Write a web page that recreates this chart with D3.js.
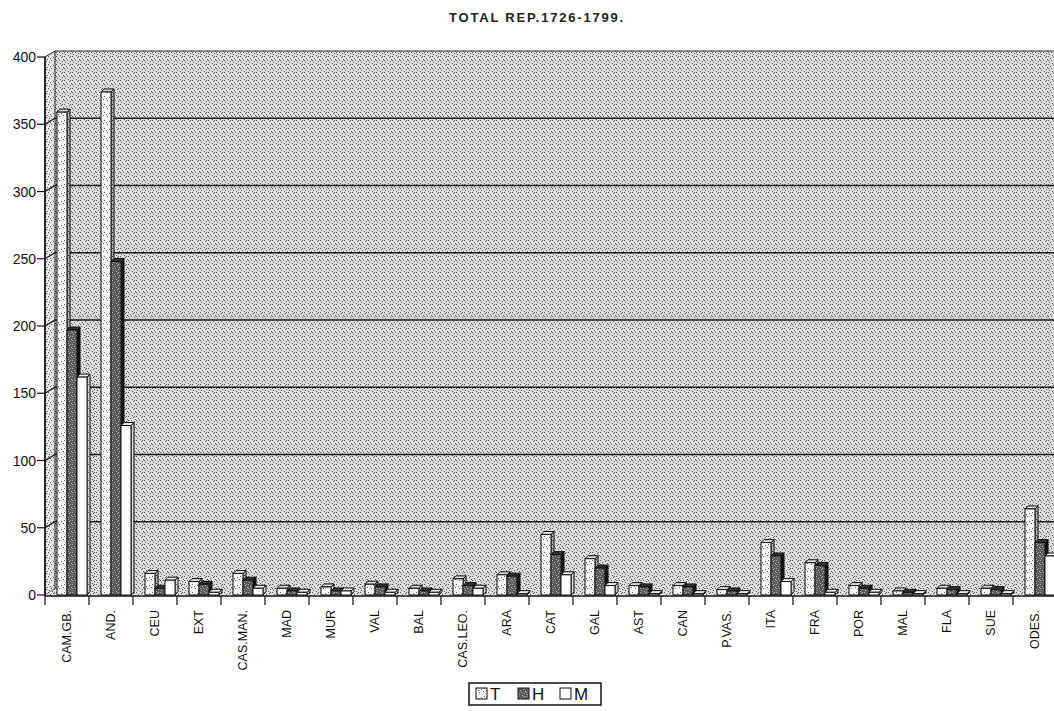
<!DOCTYPE html>
<html>
<head>
<meta charset="utf-8">
<script src="https://cdn.jsdelivr.net/npm/d3@7"></script>
<style>
  body { margin: 0; background: #fff; }
  svg { display: block; font-family: "Liberation Sans", Arial, sans-serif; }
</style>
</head>
<body>
<svg id="chart" width="1054" height="711"></svg>
<script>
var categories = ['CAM.GB.', 'AND.', 'CEU', 'EXT', 'CAS.MAN.', 'MAD', 'MUR', 'VAL', 'BAL',
  'CAS.LEO.', 'ARA', 'CAT', 'GAL', 'AST', 'CAN', 'P.VAS.', 'ITA', 'FRA', 'POR', 'MAL', 'FLA', 'SUE', 'ODES.'];
var seriesNames = ['T', 'H', 'M'];
var valuesT = [359, 374, 16, 10, 16, 5, 6, 8, 5, 12, 15, 45, 27, 7, 7, 4, 39, 24, 7, 3, 5, 5, 64];
var valuesH = [197, 248, 5, 8, 11, 3, 3, 6, 3, 7, 14, 30, 20, 6, 6, 3, 29, 22, 5, 2, 4, 4, 39];
var valuesM = [162, 126, 11, 2, 5, 2, 3, 2, 2, 5, 1, 15, 7, 1, 1, 1, 10, 2, 2, 1, 1, 1, 29];
var yTicks = [0, 50, 100, 150, 200, 250, 300, 350, 400];

var svg = d3.select('#chart');
var defs = svg.append('defs');

// stipple patterns to mimic the scanned grey tones
function stipple(id, size, bg, fg, pts) {
  var p = defs.append('pattern')
    .attr('id', id)
    .attr('width', size).attr('height', size)
    .attr('patternUnits', 'userSpaceOnUse');
  p.append('rect').attr('width', size).attr('height', size).attr('fill', bg);
  pts.forEach(function(d) {
    p.append('rect').attr('x', d[0]).attr('y', d[1]).attr('width', 1).attr('height', 1).attr('fill', fg);
  });
}
var scatter = [[0, 0], [5, 1], [2, 2], [7, 3], [3, 4], [6, 5], [1, 6], [4, 7], [6, 0], [0, 4]];
stipple('wall', 8, '#dedede', '#555', scatter);
stipple('side', 8, '#e6e6e6', '#555', scatter.slice(0, 7));
stipple('tFace', 8, '#f6f6f6', '#666', scatter.slice(0, 5));
stipple('tSide', 8, '#b8b8b8', '#333', scatter);
stipple('hFace', 8, '#5a5a5a', '#b0b0b0', scatter);
stipple('mSide', 8, '#d6d6d6', '#777', scatter.slice(0, 5));

var x0 = 45, xEnd = 1057;
var dx = 10, dy = -6;          // depth of walls
var bx = 3, by = -3;           // depth of bars

var x = d3.scaleBand()
  .domain(categories)
  .range([x0, xEnd])
  .paddingInner(0).paddingOuter(0);

var xs = d3.scaleBand()
  .domain(seriesNames)
  .range([12, 42]);

var y = d3.scaleLinear()
  .domain([0, 400])
  .range([595, 57]);

// walls
var g = svg.append('g');
g.append('path')
  .attr('d', 'M' + (x0 + dx) + ',' + (y(400) + dy) + 'H1070V' + (y(0) + dy) + 'H' + (x0 + dx) + 'Z')
  .attr('fill', 'url(#wall)');
g.append('path')
  .attr('d', 'M' + (x0 + dx) + ',' + (y(400) + dy) + 'H1070')
  .attr('fill', 'none').attr('stroke', '#333').attr('stroke-width', 1);
g.append('path')
  .attr('d', 'M' + x0 + ',' + y(0) + 'L' + (x0 + dx) + ',' + (y(0) + dy) + 'V' + (y(400) + dy) + 'L' + x0 + ',' + y(400) + 'Z')
  .attr('fill', 'url(#side)')
  .attr('stroke', '#222').attr('stroke-width', 1);
g.append('path')
  .attr('d', 'M' + x0 + ',' + y(0) + 'L' + (x0 + dx) + ',' + (y(0) + dy) + 'H1070V' + y(0) + 'Z')
  .attr('fill', 'url(#wall)');

// gridlines: slant on the left wall, then across the back wall
g.selectAll('.grid')
  .data(yTicks.filter(function(d) { return d > 0 && d < 400; }))
  .enter()
  .append('path')
  .attr('class', 'grid')
  .attr('d', function(d) {
    return 'M' + x0 + ',' + y(d) + 'L' + (x0 + dx) + ',' + (y(d) + dy) + 'H1070';
  })
  .attr('fill', 'none')
  .attr('stroke', '#1a1a1a')
  .attr('stroke-width', 1.3);

// bars
var series = [
  { key: 'T', values: valuesT, face: 'url(#tFace)', side: 'url(#tSide)', top: '#d8d8d8' },
  { key: 'H', values: valuesH, face: 'url(#hFace)', side: '#111', top: '#333' },
  { key: 'M', values: valuesM, face: '#fff', side: 'url(#mSide)', top: '#eee' }
];
var barW = xs.bandwidth();

categories.forEach(function(c, i) {
  series.forEach(function(s) {
    var v = s.values[i];
    var left = x(c) + xs(s.key);
    var top = y(v), base = y(0);
    var bar = g.append('g').attr('class', 'bar');
    bar.append('path')
      .attr('d', 'M' + (left + barW) + ',' + base + 'L' + (left + barW + bx) + ',' + (base + by) +
        'V' + (top + by) + 'L' + (left + barW) + ',' + top + 'Z')
      .attr('fill', s.side).attr('stroke', '#111').attr('stroke-width', 1);
    bar.append('path')
      .attr('d', 'M' + left + ',' + top + 'L' + (left + bx) + ',' + (top + by) +
        'H' + (left + barW + bx) + 'L' + (left + barW) + ',' + top + 'Z')
      .attr('fill', s.top).attr('stroke', '#111').attr('stroke-width', 1);
    bar.append('rect')
      .attr('x', left).attr('y', top)
      .attr('width', barW).attr('height', base - top)
      .attr('fill', s.face).attr('stroke', '#111').attr('stroke-width', 1);
  });
});

// y axis
var yAxis = svg.append('g');
yAxis.append('line')
  .attr('x1', x0).attr('x2', x0).attr('y1', y(400)).attr('y2', y(0) + 1)
  .attr('stroke', '#111').attr('stroke-width', 1.5);
yAxis.selectAll('.ytick')
  .data(yTicks)
  .enter()
  .append('line')
  .attr('x1', 37).attr('x2', x0)
  .attr('y1', function(d) { return y(d); })
  .attr('y2', function(d) { return y(d); })
  .attr('stroke', '#111').attr('stroke-width', 1.2);
yAxis.selectAll('.ylabel')
  .data(yTicks)
  .enter()
  .append('text')
  .attr('x', 36)
  .attr('y', function(d) { return y(d) + 5; })
  .attr('text-anchor', 'end')
  .attr('font-size', 14)
  .attr('fill', '#111')
  .text(function(d) { return d; });

// x axis
var xAxis = svg.append('g');
xAxis.append('line')
  .attr('x1', x0).attr('x2', 1054).attr('y1', y(0) + 1).attr('y2', y(0) + 1)
  .attr('stroke', '#111').attr('stroke-width', 1.5);
xAxis.selectAll('.xtick')
  .data(categories)
  .enter()
  .append('line')
  .attr('x1', function(d) { return x(d); })
  .attr('x2', function(d) { return x(d); })
  .attr('y1', y(0) + 1).attr('y2', y(0) + 10)
  .attr('stroke', '#111').attr('stroke-width', 1.2);
xAxis.selectAll('.xlabel')
  .data(categories)
  .enter()
  .append('text')
  .attr('transform', function(d) {
    return 'translate(' + (x(d) + x.bandwidth() / 2 + 4) + ',' + 610 + ') rotate(-90)';
  })
  .attr('text-anchor', 'end')
  .attr('font-size', 12.5)
  .attr('fill', '#111')
  .text(function(d) { return d; });

// title
svg.append('text')
  .attr('x', 537).attr('y', 22)
  .attr('text-anchor', 'middle')
  .attr('font-size', 13)
  .attr('font-weight', 'bold')
  .attr('letter-spacing', 1.8)
  .attr('fill', '#222')
  .text('TOTAL REP.1726-1799.');

// legend
var legend = svg.append('g').attr('transform', 'translate(469,683)');
legend.append('rect')
  .attr('width', 132).attr('height', 22)
  .attr('fill', '#fff').attr('stroke', '#111').attr('stroke-width', 1.5);
var legendItems = legend.selectAll('.item')
  .data(series)
  .enter()
  .append('g')
  .attr('transform', function(d, i) { return 'translate(' + (7 + i * 42) + ',5)'; });
legendItems.append('rect')
  .attr('width', 11).attr('height', 11)
  .attr('fill', function(d) { return d.face; })
  .attr('stroke', '#111').attr('stroke-width', 1);
legendItems.append('text')
  .attr('x', 14).attr('y', 12)
  .attr('font-size', 17)
  .attr('fill', '#111')
  .text(function(d) { return d.key; });
</script>
</body>
</html>
